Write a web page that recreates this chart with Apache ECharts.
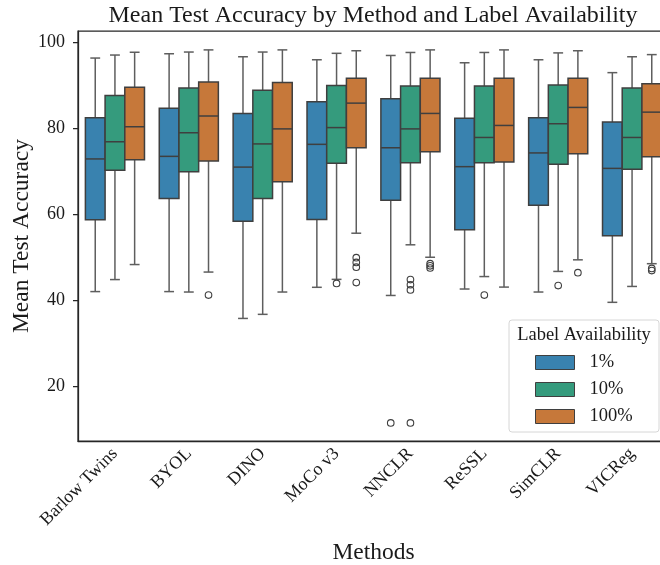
<!DOCTYPE html>
<html>
<head>
<meta charset="utf-8">
<script src="https://cdn.jsdelivr.net/npm/echarts@6/dist/echarts.min.js"></script>
<style>
html,body{margin:0;padding:0;background:#fff;}
#chart{width:660px;height:565px;}
</style>
</head>
<body>
<div id="chart"></div>
<script>
// ---- data ----
const methods = ['Barlow Twins','BYOL','DINO','MoCo v3','NNCLR','ReSSL','SimCLR','VICReg'];
const groups = ['1%','10%','100%'];
const yTicks = [20,40,60,80,100];
// [lower whisker, Q1, median, Q3, upper whisker]
const stats1 = [
  [42.0, 58.75, 72.9, 82.5, 96.4],
  [42.0, 63.7, 73.5, 84.7, 97.4],
  [35.75, 58.4, 71.0, 83.5, 96.7],
  [43.0, 58.8, 76.3, 86.2, 96.0],
  [41.1, 63.3, 75.5, 86.9, 97.0],
  [42.6, 56.4, 71.1, 82.4, 95.3],
  [41.9, 62.1, 74.3, 82.5, 96.0],
  [39.5, 55.0, 70.7, 81.5, 93.0]
];
const stats10 = [
  [44.8, 70.25, 76.9, 87.65, 97.1],
  [41.9, 69.9, 79.0, 89.4, 97.8],
  [36.7, 63.7, 76.4, 88.9, 97.8],
  [44.85, 71.9, 80.2, 90.0, 97.5],
  [52.9, 72.0, 79.9, 89.9, 97.7],
  [45.5, 72.0, 77.9, 89.9, 97.7],
  [46.7, 71.65, 81.1, 90.1, 97.6],
  [43.2, 70.5, 77.9, 89.4, 96.7]
];
const stats100 = [
  [48.3, 72.7, 80.4, 89.6, 97.75],
  [46.55, 72.4, 82.9, 90.8, 98.3],
  [41.9, 67.6, 79.9, 90.7, 98.3],
  [55.6, 75.5, 85.9, 91.7, 98.1],
  [50.0, 74.6, 83.5, 91.7, 98.3],
  [43.05, 72.2, 80.7, 91.7, 98.3],
  [49.4, 74.1, 84.9, 91.7, 98.1],
  [48.5, 73.4, 83.8, 90.4, 97.2]
];
// [method index, value]
const outliers1 = [[4, 11.4]];
const outliers10 = [[3, 43.9],[4, 44.8],[4, 43.6],[4, 42.4],[4, 11.4],[5, 41.2],[6, 43.4]];
const outliers100 = [[1, 41.2],[3, 49.9],[3, 48.8],[3, 47.7],[3, 44.1],[4, 48.5],[4, 48.0],[4, 47.5],[6, 46.4],[7, 47.4],[7, 46.9]];

// ---- style ----
const colors = ['#3982AF', '#359B7D', '#C6783A'];
const edgeColor = '#3f3f3f';
const whiskerColor = '#5e5e5e';
const FONT = '"Liberation Serif", "DejaVu Serif", serif';
const textColor = '#1a1a1a';

function boxRenderer(k) {
  return function (params, api) {
    const ci = api.value(0);
    const band = api.size([1, 0])[0];
    const w = band * 0.8 / 3;
    const cx = api.coord([ci, 0])[0] + (k - 1) * w;
    const yLow = api.coord([ci, api.value(1)])[1];
    const yQ1 = api.coord([ci, api.value(2)])[1];
    const yMed = api.coord([ci, api.value(3)])[1];
    const yQ3 = api.coord([ci, api.value(4)])[1];
    const yHigh = api.coord([ci, api.value(5)])[1];
    const cap = w / 4;
    const ls = {stroke: whiskerColor, lineWidth: 1.5};
    return {
      type: 'group',
      children: [
        {type: 'line', shape: {x1: cx, y1: yHigh, x2: cx, y2: yQ3}, style: ls},
        {type: 'line', shape: {x1: cx, y1: yQ1, x2: cx, y2: yLow}, style: ls},
        {type: 'line', shape: {x1: cx - cap, y1: yHigh, x2: cx + cap, y2: yHigh}, style: ls},
        {type: 'line', shape: {x1: cx - cap, y1: yLow, x2: cx + cap, y2: yLow}, style: ls},
        {type: 'rect', shape: {x: cx - w / 2, y: yQ3, width: w, height: yQ1 - yQ3},
          style: {fill: colors[k], stroke: edgeColor, lineWidth: 1.5}},
        {type: 'line', shape: {x1: cx - w / 2, y1: yMed, x2: cx + w / 2, y2: yMed},
          style: {stroke: edgeColor, lineWidth: 1.5}}
      ]
    };
  };
}

function outlierRenderer(k) {
  return function (params, api) {
    const ci = api.value(0);
    const band = api.size([1, 0])[0];
    const w = band * 0.8 / 3;
    const p = api.coord([ci, api.value(1)]);
    return {
      type: 'circle',
      shape: {cx: p[0] + (k - 1) * w, cy: p[1], r: 3.3},
      style: {fill: 'none', stroke: edgeColor, lineWidth: 1.1}
    };
  };
}

const allStats = [stats1, stats10, stats100];
const allOut = [outliers1, outliers10, outliers100];
const series = [];
groups.forEach(function (g, k) {
  series.push({
    type: 'custom',
    name: g,
    renderItem: boxRenderer(k),
    itemStyle: {color: colors[k]},
    encode: {x: 0, y: [1, 2, 3, 4, 5]},
    data: allStats[k].map(function (s, i) { return [i].concat(s); }),
    z: 3
  });
  series.push({
    type: 'custom',
    name: g + ' outliers',
    renderItem: outlierRenderer(k),
    encode: {x: 0, y: 1},
    data: allOut[k],
    z: 3
  });
});

const chart = echarts.init(document.getElementById('chart'), null, {renderer: 'canvas'});
chart.setOption({
  animation: false,
  color: colors,
  textStyle: {fontFamily: FONT, color: textColor},
  grid: {left: 78, right: -9, top: 31, bottom: 124, show: true, borderColor: '#262626', borderWidth: 1.25,
    backgroundColor: 'transparent', containLabel: false, outerBoundsMode: 'none'},
  graphic: [
    {type: 'text', x: 373, y: 16, z: 10,
      style: {text: 'Mean Test Accuracy by Method and Label Availability', font: '24px ' + FONT,
        fill: textColor, textAlign: 'center', textVerticalAlign: 'middle'}},
    {type: 'rect', z: 20, shape: {x: 509, y: 320, width: 150, height: 112, r: 3},
      style: {fill: 'rgba(255,255,255,0.85)', stroke: '#d6d6d6', lineWidth: 1}},
    {type: 'text', x: 584, y: 335, z: 21,
      style: {text: 'Label Availability', font: '18.5px ' + FONT, fill: textColor,
        textAlign: 'center', textVerticalAlign: 'middle'}}
  ],
  legend: {
    data: groups.map(function (g, k) {
      return {name: g, icon: 'rect', itemStyle: {color: colors[k], borderColor: edgeColor, borderWidth: 1}};
    }),
    orient: 'vertical',
    left: 535, top: 353,
    itemWidth: 39, itemHeight: 14, itemGap: 8,
    padding: 0, z: 30,
    textStyle: {fontFamily: FONT, fontSize: 18.5, color: textColor, padding: [0, 0, 0, 10]},
    selectedMode: false
  },
  xAxis: {
    type: 'category',
    data: methods,
    boundaryGap: true,
    name: 'Methods',
    nameLocation: 'middle',
    nameGap: 100,
    nameMoveOverlap: false,
    nameTextStyle: {fontFamily: FONT, fontSize: 23.5, color: textColor},
    axisLine: {lineStyle: {color: '#262626', width: 1.25}},
    axisTick: {alignWithLabel: true, length: 5, lineStyle: {color: '#262626', width: 1.25}},
    axisLabel: {rotate: 45, fontSize: 18, fontFamily: FONT, color: textColor, margin: 10, interval: 0},
    splitLine: {show: false}
  },
  yAxis: {
    type: 'value',
    min: 7.2,
    max: 102.7,
    name: 'Mean Test Accuracy',
    nameLocation: 'middle',
    nameGap: 44,
    nameMoveOverlap: false,
    nameRotate: 90,
    nameTextStyle: {fontFamily: FONT, fontSize: 23.5, color: textColor},
    axisLine: {show: true, lineStyle: {color: '#262626', width: 1.25}},
    axisTick: {show: true, length: 5, customValues: yTicks, lineStyle: {color: '#262626', width: 1.25}},
    axisLabel: {fontSize: 18, fontFamily: FONT, color: textColor, margin: 13, customValues: yTicks},
    splitLine: {show: false}
  },
  series: series
});
</script>
</body>
</html>
